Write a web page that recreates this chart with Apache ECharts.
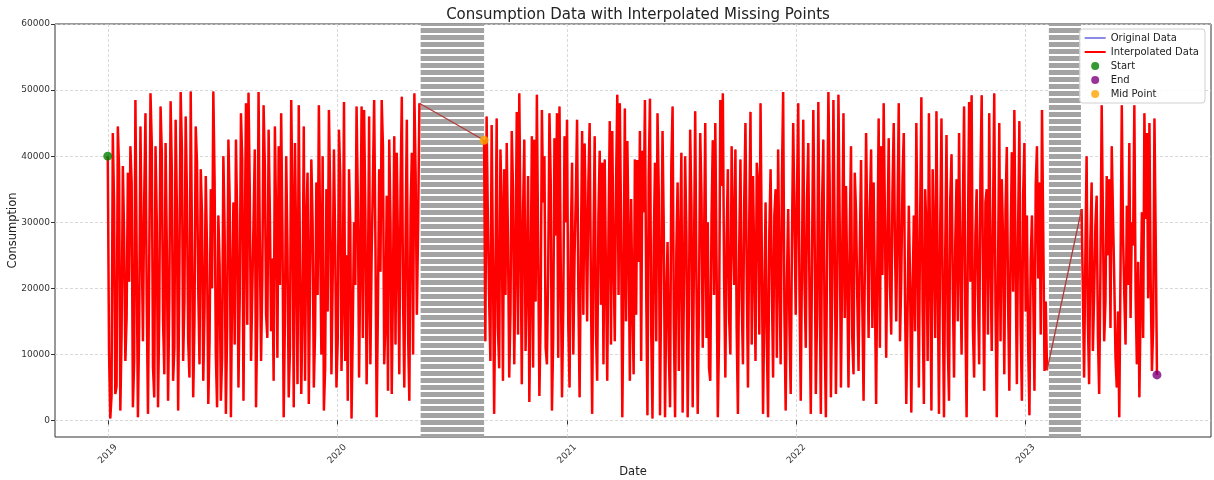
<!DOCTYPE html>
<html>
<head>
<meta charset="utf-8">
<script src="https://cdn.jsdelivr.net/npm/echarts@6/dist/echarts.min.js"></script>
<style>
  html, body { margin: 0; padding: 0; background: #fff; }
  #main { width: 1214px; height: 480px; }
</style>
</head>
<body>
<div id="main"></div>
<script>
var stepDays = 2;
var startA = '2019-01-01';
var startB = '2020-08-22';
var startC = '2023-03-31';

var valuesA = [
  40000, 10500, 300, 3700, 43500, 33000, 4000, 5200, 44500, 38000, 1500, 13000, 38500, 28000, 9000, 15500, 37500, 21000, 41500, 36000,
  2000, 9000, 48500, 25000, 500, 14500, 44500, 27000, 12000, 33500, 46500, 18000, 1000, 24000, 49500, 42000, 8000, 3500, 41500, 30000,
  2000, 16500, 47500, 40500, 15000, 7000, 42000, 26000, 3000, 19000, 48300, 37500, 6000, 11000, 45500, 32000, 1500, 22500, 49700, 41000,
  9000, 18000, 46000, 34000, 12000, 6500, 49800, 27500, 3500, 15000, 44500, 39000, 20000, 8500, 38000, 31000, 6000, 17000, 37000, 25500,
  2500, 12000, 35000, 20000, 49800, 36500, 10000, 2000, 31000, 23500, 3000, 9500, 40000, 28500, 1000, 14000, 42500, 33500, 500, 21000,
  33000, 11500, 42500, 30500, 5000, 18500, 46500, 39500, 3000, 26500, 48000, 14500, 49600, 35000, 9000, 19500, 30000, 41000, 2000, 16000,
  49700, 27000, 9000, 21500, 47700, 38500, 16000, 12500, 44000, 31500, 13500, 24500, 6000, 44500, 30000, 9500, 41500, 20500, 46500, 29000,
  500, 15500, 40000, 26000, 3500, 11000, 48500, 33000, 2000, 42000, 25000, 5500, 47700, 23000, 4000, 17500, 44500, 6000, 30000, 37500,
  2500, 22000, 39500, 30000, 5000, 13500, 36000, 19000, 47700, 28000, 10000, 40000, 1500, 8000, 35000, 16500, 47000, 34500, 7000, 21500,
  41000, 26500, 5000, 12000, 44000, 37000, 7500, 18000, 48200, 9000, 25000, 3000, 38000, 29500, 300, 14000, 30000, 20500, 47500, 33500,
  6500, 24500, 47500, 12500, 47000, 31000, 5500, 19500, 46000, 8500, 25000, 36000, 48500, 27000, 500, 17000, 38000, 22500, 48500, 41500,
  8500, 15000, 34000, 4500, 42500, 30000, 4000, 21000, 43000, 11500, 40500, 25500, 7000, 35000, 49000, 18500, 5000, 27500, 45500, 13000,
  3000, 32000, 40500, 10000, 49500, 37500, 16000, 29500, 48000
];

var valuesB = [
  42400, 12000, 46000, 30500, 18500, 9000, 44700, 25000, 1000, 21500, 45700, 14000, 7900, 41000, 32500, 6000, 38000, 19000, 42000, 27500,
  6500, 16500, 43800, 35000, 8500, 24000, 46700, 13000, 49500, 29000, 5500, 31500, 42500, 10500, 22000, 37000, 2800, 20000, 43000, 8000,
  42500, 18000, 49300, 26500, 3700, 15500, 47000, 33000, 40000, 11000, 8500, 22500, 46500, 36500, 1500, 12500, 42700, 28000, 46500, 9500,
  47500, 23500, 3500, 17000, 43000, 30000, 45500, 14500, 5000, 27000, 39000, 10000, 25000, 34000, 45500, 19500, 3500, 24500, 43800, 16000,
  41900, 29500, 15000, 36000, 45000, 20500, 1000, 26000, 43000, 13500, 6000, 31000, 40800, 17500, 39000, 8500, 39500, 22000, 6000, 28500,
  45300, 11500, 43800, 25000, 12000, 35500, 49300, 19000, 48000, 30000, 500, 21000, 47200, 15000, 42300, 27500, 6000, 33500, 18000, 7000,
  39500, 16000, 39400, 24000, 43800, 9000, 40800, 31500, 48500, 20000, 800, 37000, 48700, 13500, 300, 26500, 39000, 12000, 46500, 34500,
  800, 22500, 43800, 29000, 500, 18000, 27000, 10500, 2000, 38500, 47500, 14500, 500, 25500, 36000, 7500, 27000, 40500, 1200, 19500,
  40000, 28000, 500, 16500, 44000, 32500, 2000, 24000, 46800, 21000, 1000, 17500, 43500, 34000, 11000, 26000, 45000, 12500, 30000, 8000,
  6000, 30500, 42400, 19000, 45000, 23500, 500, 13000, 48500, 35500, 49500, 21500, 6500, 27500, 38000, 15500, 10000, 41500, 29000, 20500,
  41000, 14000, 1000, 25500, 39500, 18500, 8500, 33000, 45000, 22000, 5000, 29500, 46700, 11500, 37000, 24000, 9000, 39000, 36000, 13000,
  48000, 26000, 1000, 17000, 33000, 12000, 500, 28500, 38000, 20500, 6500, 31000, 35000, 9500, 41000, 23000, 8500, 36500, 49700, 16500,
  1500, 21000, 32000, 14500, 4000, 27000, 45000, 30500, 16000, 34000, 48000, 19500, 3000, 24500, 45500, 21000, 11000, 33500, 42000, 18000,
  1000, 25000, 47000, 29500, 4000, 16000, 48200, 22500, 1000, 33000, 42500, 13500, 500, 26500, 49700, 36000, 3500, 19000, 48500, 27500,
  4000, 20000, 49300, 30000, 5000, 24000, 46500, 15500, 35500, 21000, 5000, 28000, 41500, 12500, 7000, 37500, 31500, 18500, 7500, 26000,
  39400, 17500, 3000, 23000, 43500, 28500, 12500, 32000, 41000, 14000, 36000, 19500, 2500, 25000, 45700, 11000, 41500, 22000, 48000, 30500,
  9500, 27000, 42700, 20500, 13000, 34500, 45000, 26000, 15000, 31000, 48000, 12000, 21500, 36500, 43500, 18000, 2500, 16000, 32500, 21500,
  1200, 19000, 31000, 13500, 45000, 24500, 5000, 30000, 48900, 17000, 2500, 35000, 29000, 9000, 46500, 23500, 1500, 38000, 27500, 12500,
  46800, 22000, 1000, 29000, 45700, 18500, 500, 25500, 43200, 11500, 3000, 33500, 40300, 20000, 6500, 27000, 36500, 15000, 43500, 24000,
  10000, 31500, 47500, 16000, 500, 26500, 48200, 21000, 49200, 14000, 6500, 28000, 35000, 19500, 8500, 37000, 49200, 22500, 4500, 33000,
  35000, 13000, 46500, 25000, 10500, 30500, 49500, 17500, 500, 22500, 45000, 12000, 36500, 27500, 7000, 32000, 41400, 18000, 4500, 26000,
  40600, 19500, 47000, 23500, 5500, 29000, 45300, 14500, 3000, 34000, 42000, 16500, 31000, 11000, 800, 24000, 31000, 20000, 4500, 35500,
  41500, 21500, 36000, 13000, 47000, 28500, 7500, 18000, 7600
];

var valuesC = [
  32000, 20000, 6500, 24500, 40000, 15000, 5500, 27000, 36000, 10500, 19000, 29500, 34000, 13000, 4000, 22500, 47700, 30500, 12000, 18000,
  37000, 25000, 36500, 14000, 41500, 31000, 21500, 9500, 5000, 16500, 500, 23000, 47700, 28000, 19000, 11500, 32500, 20500, 42000, 15500,
  30000, 26500, 47700, 19000, 8500, 24000, 3500, 17500, 31500, 12500, 46500, 30500, 43500, 18500, 45000, 21000, 7500, 14500, 45700, 27500,
  6900
];

// missing stretches (shaded)
var gaps = [['2020-05-13', '2020-08-22'], ['2023-02-07', '2023-03-30']];
var yearTicks = ['2019-01-01', '2020-01-01', '2021-01-01', '2022-01-01', '2023-01-01'];
var yTicks = [0, 10000, 20000, 30000, 40000, 50000, 60000];

var DAY = 86400000;
function ts(s) { return Date.parse(s + 'T00:00:00Z'); }
function toPoints(start, vals) {
  var t0 = ts(start);
  return vals.map(function (v, i) { return [t0 + i * stepDays * DAY, v]; });
}
var ptsA = toPoints(startA, valuesA);
var ptsB = toPoints(startB, valuesB);
var ptsC = toPoints(startC, valuesC);
var lastA = ptsA[ptsA.length - 1], lastB = ptsB[ptsB.length - 1], lastC = ptsC[ptsC.length - 1];

var lineData = ptsA.concat([[lastA[0] + DAY, '-']], ptsB, [[lastB[0] + DAY, '-']], ptsC);

// hatched fill for the missing stretches
var hatch = document.createElement('canvas');
hatch.width = 4; hatch.height = 7;
var hctx = hatch.getContext('2d');
hctx.fillStyle = '#ffffff'; hctx.fillRect(0, 0, 4, 7);
hctx.fillStyle = '#a3a3a3'; hctx.fillRect(0, 0, 4, 5);

var FONT = 'DejaVu Sans';
var myChart = echarts.init(document.getElementById('main'), null, { renderer: 'canvas' });

var option = {
  animation: false,
  backgroundColor: '#fff',
  textStyle: { fontFamily: FONT },
  title: {
    text: 'Consumption Data with Interpolated Missing Points',
    left: 633, top: 3, textAlign: 'center',
    textStyle: { fontFamily: FONT, fontSize: 15, fontWeight: 'normal', color: '#222' }
  },
  grid: {
    left: 55, right: 3, top: 24, bottom: 43,
    containLabel: false, outerBoundsMode: 'none',
    show: true, borderColor: '#333', borderWidth: 1, backgroundColor: 'transparent'
  },
  legend: {
    orient: 'vertical', right: 9, top: 29,
    data: [
      { name: 'Original Data', itemStyle: { opacity: 0 } },
      { name: 'Interpolated Data', itemStyle: { opacity: 0 } },
      'Start', 'End', 'Mid Point'
    ],
    itemWidth: 21, itemHeight: 8, itemGap: 4,
    padding: [4, 6, 4, 4],
    backgroundColor: 'rgba(255,255,255,0.85)',
    borderColor: '#d0d0d0', borderWidth: 1, borderRadius: 3,
    textStyle: { fontFamily: FONT, fontSize: 10, color: '#222' }
  },
  xAxis: {
    type: 'value',
    min: ts('2018-10-09'), max: ts('2023-10-23'),
    name: 'Date', nameLocation: 'middle', nameGap: 29, nameMoveOverlap: false,
    nameTextStyle: { fontFamily: FONT, fontSize: 11.5, color: '#222' },
    axisLine: { show: false },
    axisTick: { show: true, length: 4, inside: false, lineStyle: { color: '#333' },
      customValues: yearTicks.map(ts) },
    axisLabel: {
      customValues: yearTicks.map(ts),
      rotate: 45, align: 'center', verticalAlign: 'middle', margin: 17,
      fontFamily: FONT, fontSize: 9, color: '#333',
      formatter: function (v) { return String(new Date(v).getUTCFullYear()); }
    },
    splitLine: { show: true, lineStyle: { color: '#cfcfcf', type: [3, 2], width: 0.8 } }
  },
  yAxis: {
    type: 'value', min: -2500, max: 60000,
    name: 'Consumption', nameLocation: 'middle', nameGap: 36, nameMoveOverlap: false,
    nameTextStyle: { fontFamily: FONT, fontSize: 11.5, color: '#222' },
    axisLine: { show: false },
    axisTick: { show: true, length: 4, lineStyle: { color: '#333' }, customValues: yTicks },
    axisLabel: {
      customValues: yTicks, margin: 5, fontFamily: FONT, fontSize: 9, color: '#333',
      formatter: function (v) { return String(v); }
    },
    splitLine: { show: true, lineStyle: { color: '#cfcfcf', type: [3, 2], width: 0.8 } }
  },
  series: [
    {
      name: 'Original Data', type: 'line', data: lineData, symbol: 'none',
      lineStyle: { color: '#8c8ce6', width: 1 }, itemStyle: { color: '#8c8ce6' },
      connectNulls: false, z: 1,
      markArea: {
        silent: true,
        itemStyle: { color: { image: hatch, repeat: 'repeat' } },
        data: gaps.map(function (g) { return [{ xAxis: ts(g[0]) }, { xAxis: ts(g[1]) }]; })
      }
    },
    {
      name: 'Interpolated Data', type: 'line', data: lineData, symbol: 'none',
      lineStyle: { color: '#ff0000', width: 2.5, join: 'miter', miterLimit: 2 },
      itemStyle: { color: '#ff0000' },
      connectNulls: false, z: 2
    },
    {
      name: 'bridge1', type: 'line', data: [lastA, ptsB[0]], symbol: 'none',
      lineStyle: { color: '#b23a3a', width: 1.3 }, z: 3
    },
    {
      name: 'bridge2', type: 'line', data: [lastB, ptsC[0]], symbol: 'none',
      lineStyle: { color: '#b23a3a', width: 1.3 }, z: 3
    },
    {
      name: 'Start', type: 'scatter', data: [ptsA[0]], symbolSize: 9,
      itemStyle: { color: '#008000' }, z: 5
    },
    {
      name: 'End', type: 'scatter', data: [lastC], symbolSize: 9,
      itemStyle: { color: '#800080' }, z: 5
    },
    {
      name: 'Mid Point', type: 'scatter', data: [ptsB[0]], symbolSize: 9,
      itemStyle: { color: '#ffa500' }, z: 5
    }
  ]
};

myChart.setOption(option);
</script>
</body>
</html>
